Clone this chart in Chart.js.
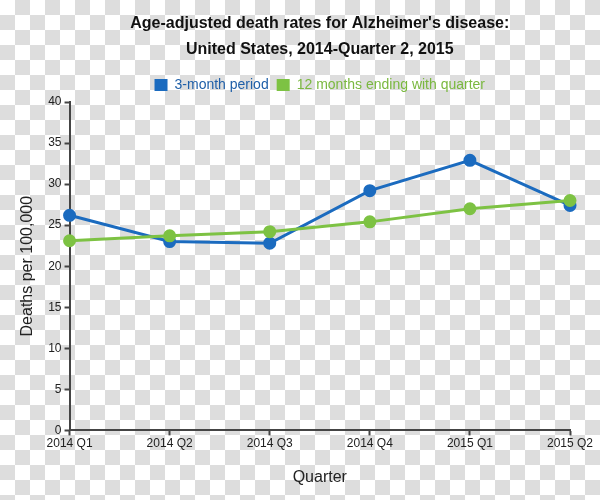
<!DOCTYPE html>
<html>
<head>
<meta charset="utf-8">
<script src="https://cdn.jsdelivr.net/npm/chart.js@4"></script>
<style>
  html, body {
    margin: 0;
    padding: 0;
  }
  body {
    width: 600px;
    height: 500px;
    background: repeating-conic-gradient(#dddddd 0 25%, #ffffff 0 50%) 0 0 / 30px 30px;
  }
  #deathChart {
    display: block;
  }
</style>
</head>
<body>
<canvas id="deathChart" width="600" height="500"></canvas>
<script>
const quarters = ["2014 Q1", "2014 Q2", "2014 Q3", "2014 Q4", "2015 Q1", "2015 Q2"];
const threeMonthRates = [26.2, 23.0, 22.8, 29.2, 32.9, 27.4];
const twelveMonthRates = [23.1, 23.7, 24.2, 25.4, 27.0, 28.0];
const yTicks = [0, 5, 10, 15, 20, 25, 30, 35, 40];

const palette = {
  blue: "#1b6bbf",
  blueText: "#1f5fa8",
  green: "#7dc243",
  greenText: "#7ab83f",
  axis: "#444444",
  text: "#222222"
};

const fontFamily = "'Liberation Sans', Arial, sans-serif";

const chartCanvas = document.getElementById("deathChart");

new Chart(chartCanvas, {
  type: "line",
  data: {
    labels: quarters,
    datasets: [
      {
        label: "3-month period",
        data: threeMonthRates,
        borderColor: palette.blue,
        backgroundColor: palette.blue,
        pointBackgroundColor: palette.blue,
        pointBorderColor: palette.blue,
        borderWidth: 3,
        pointRadius: 5,
        tension: 0,
        order: 1
      },
      {
        label: "12 months ending with quarter",
        data: twelveMonthRates,
        borderColor: palette.green,
        backgroundColor: palette.green,
        pointBackgroundColor: palette.green,
        pointBorderColor: palette.green,
        borderWidth: 3,
        pointRadius: 5,
        tension: 0,
        order: 0
      }
    ]
  },
  options: {
    responsive: false,
    animation: false,
    layout: {
      padding: { left: 18, right: 30, top: 0, bottom: 13 }
    },
    plugins: {
      title: {
        display: true,
        fullSize: false,
        text: [
          "Age-adjusted death rates for Alzheimer's disease:",
          "United States, 2014-Quarter 2, 2015"
        ],
        color: "#111111",
        font: { family: fontFamily, size: 16, weight: "bold", lineHeight: 1.625 },
        padding: { top: 11, bottom: 7 }
      },
      legend: {
        display: true,
        fullSize: false,
        position: "top",
        labels: {
          boxWidth: 13,
          boxHeight: 12,
          padding: 8,
          font: { family: fontFamily, size: 14 },
          generateLabels: (chart) =>
            chart.data.datasets.map((ds, i) => ({
              text: ds.label,
              fillStyle: ds.borderColor,
              strokeStyle: ds.borderColor,
              lineWidth: 0,
              fontColor: i === 0 ? palette.blueText : palette.greenText,
              datasetIndex: i,
              hidden: false
            }))
        }
      },
      tooltip: { enabled: false }
    },
    scales: {
      x: {
        type: "category",
        offset: false,
        grid: {
          display: true,
          drawOnChartArea: false,
          drawTicks: true,
          tickLength: 5,
          tickWidth: 2,
          tickColor: palette.axis
        },
        border: { display: true, color: palette.axis, width: 2 },
        ticks: {
          color: palette.text,
          font: { family: fontFamily, size: 12 },
          padding: 1,
          maxRotation: 0,
          autoSkip: false
        },
        title: {
          display: true,
          text: "Quarter",
          color: palette.text,
          font: { family: fontFamily, size: 16 },
          padding: { top: 16, bottom: 0 }
        }
      },
      y: {
        min: 0,
        max: 40,
        afterBuildTicks: (axis) => {
          axis.ticks = yTicks.map((v) => ({ value: v }));
        },
        grid: {
          display: true,
          drawOnChartArea: false,
          drawTicks: true,
          tickLength: 5,
          tickWidth: 2,
          tickColor: palette.axis
        },
        border: { display: true, color: palette.axis, width: 2 },
        ticks: {
          color: palette.text,
          font: { family: fontFamily, size: 12 },
          padding: 3
        },
        title: {
          display: true,
          text: "Deaths per 100,000",
          color: palette.text,
          font: { family: fontFamily, size: 16 },
          padding: { top: 0, bottom: 8 }
        }
      }
    }
  }
});
</script>
</body>
</html>
